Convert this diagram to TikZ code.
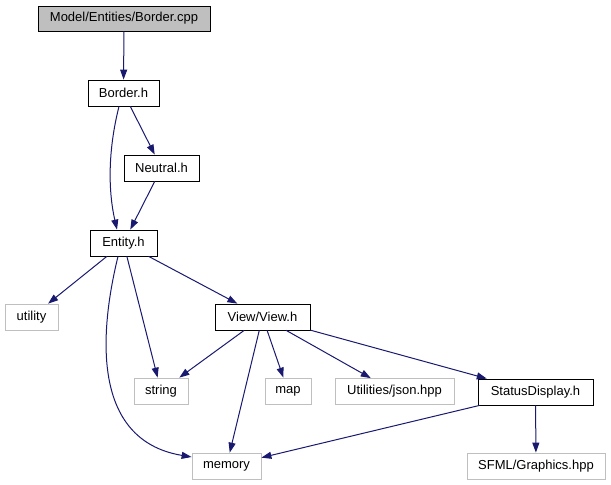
\documentclass[tikz,border=0pt]{standalone}
\usepackage{fontspec}
\setmainfont{Liberation Sans}
\usetikzlibrary{arrows.meta}
\definecolor{edgeBlue}{RGB}{25,25,112}
\definecolor{extGray}{RGB}{191,191,191}

\begin{document}
\begin{tikzpicture}[x=1pt, y=-1pt,
  every node/.style={font=\fontsize{13}{15}\selectfont, inner sep=0pt, minimum height=26pt},
  docfile/.style={draw=black, line width=0.8pt},
  sysfile/.style={draw=extGray, line width=0.8pt},
  incl/.style={-{Triangle[length=10pt,width=7pt]}, edgeBlue, line width=1pt}]
  \useasboundingbox (0,0) rectangle (611,485);

  \node[docfile, fill=extGray, minimum width=172pt, minimum height=25pt]
    (cpp) at (124,18.5) {Model/Entities/Border.cpp};
  \node[docfile, minimum width=71pt] (border) at (123.5,93) {Border.h};
  \node[docfile, minimum width=75pt] (neutral) at (161.5,168) {Neutral.h};
  \node[docfile, minimum width=67pt] (entity) at (123.5,243) {Entity.h};

  \node[sysfile, minimum width=53pt] (utility) at (31.5,317) {utility};
  \node[docfile, minimum width=95pt] (view) at (262.5,317) {View/View.h};

  \node[sysfile, minimum width=54pt] (string) at (161,391) {string};
  \node[sysfile, minimum width=46pt] (map) at (288,391) {map};
  \node[sysfile, minimum width=119pt] (json) at (394.5,391.5) {Utilities/json.hpp};
  \node[docfile, minimum width=115pt] (status) at (535.5,392) {StatusDisplay.h};

  \node[sysfile, minimum width=69pt] (memory) at (226.5,466) {memory};
  \node[sysfile, minimum width=138pt] (sfml) at (536,466) {SFML/Graphics.hpp};

  % includes of the source file and its headers
  \draw[incl] (cpp) -- (border);
  \draw[incl] ([xshift=-4.5]border.south) .. controls (108,150) and (108,190)
    .. ([xshift=-6.5]entity.north);
  \draw[incl] (border) -- (neutral);
  \draw[incl] (neutral) -- (entity);

  \draw[incl] (entity) -- (utility);
  \draw[incl] ([xshift=-5.5]entity.south) .. controls (100,330) and (90,440)
    .. ([yshift=9]memory.west);
  \draw[incl] (entity) -- (string);
  \draw[incl] (entity) -- (view);

  \draw[incl] (view) -- (string);
  \draw[incl] (view) -- (memory);
  \draw[incl] (view) -- (map);
  \draw[incl] (view) -- (json);
  \draw[incl] (view) -- (status);

  \draw[incl] (status) -- (memory);
  \draw[incl] (status) -- (sfml);
\end{tikzpicture}
\end{document}
